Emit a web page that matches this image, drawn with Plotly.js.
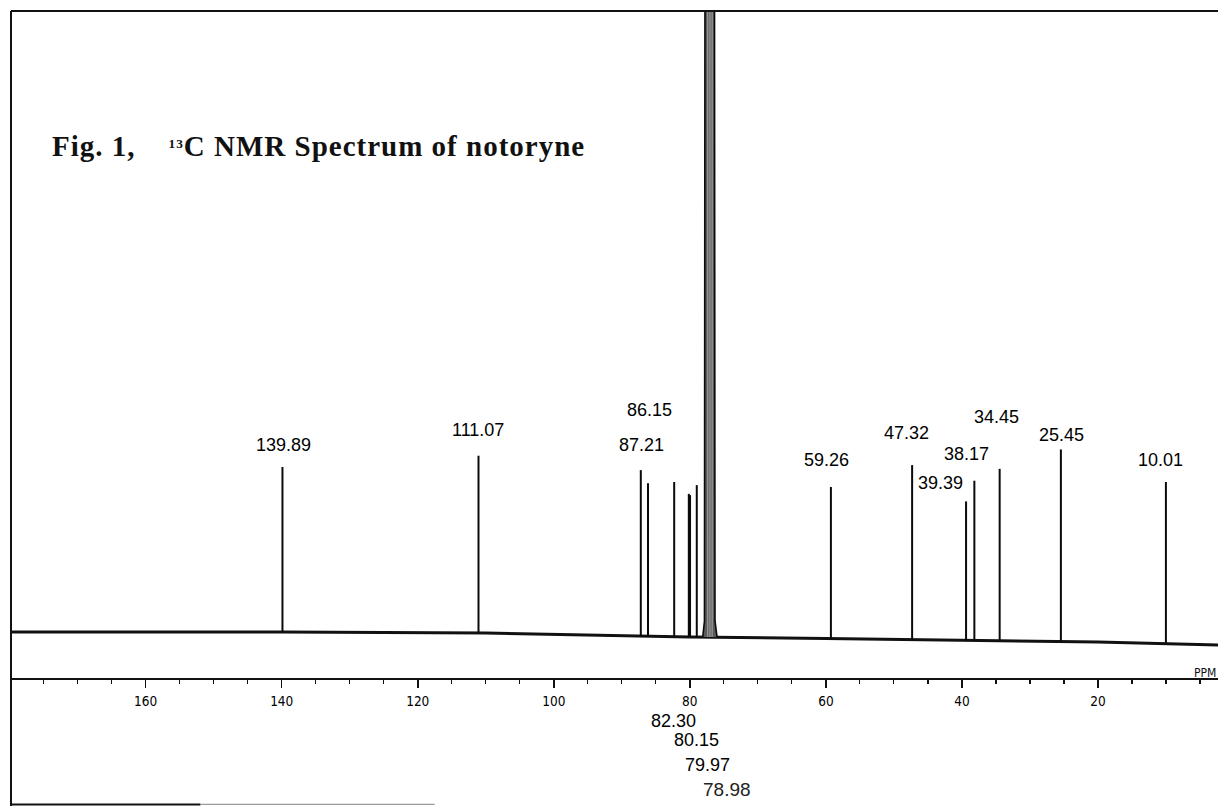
<!DOCTYPE html>
<html>
<head>
<meta charset="utf-8">
<script src="https://cdn.plot.ly/plotly-3.0.1.min.js"></script>
<style>
  html, body { margin: 0; padding: 0; background: #ffffff; }
  #chart { width: 1218px; height: 809px; }
</style>
</head>
<body>
<div id="chart"></div>
<script>
// ---- data (ppm, relative intensity) ----
const peakPpm   = [139.89, 111.07, 87.21, 86.15, 82.30, 80.15, 79.97, 78.98, 59.26, 47.32, 39.39, 38.17, 34.45, 25.45, 10.01];
const peakTop   = [27.0,   28.8,   26.5,  24.4,  24.6,  22.7,  22.5,  24.1,  23.8,  27.3,  21.5,  24.8,  26.7,  29.8,  24.6];
const peakBase  = [0.64,   0.48,  -0.08, -0.08, -0.16, -0.16, -0.16, -0.16, -0.40, -0.56, -0.72, -0.72, -0.72, -0.88, -1.12];

const baselinePpm = [179.8, 140, 110, 95, 80, 60, 40, 20, 2.35];
const baselineVal = [0.64, 0.64, 0.48, 0.16, -0.16, -0.40, -0.72, -0.96, -1.44];

// CDCl3 solvent triplet (top is clipped by the frame) and its band outline
const solventPpm  = [77.36, 77.04, 76.72];
const solventTop  = [140, 140, 140];
const solventEdgePpm = [78.1, 77.85, 77.75, 76.4, 76.3, 76.0];
const solventEdgeVal = [-0.16, 2.4, 140, 140, 2.4, -0.16];

// printed labels
const labelsAbove = ["139.89", "111.07", "87.21", "86.15", "59.26", "47.32", "39.39", "38.17", "34.45", "25.45", "10.01"];
const labelsBelow = ["82.30", "80.15", "79.97", "78.98"];

// axis ticks
const tickVals = [160, 140, 120, 100, 80, 60, 40, 20];
const tickText = ["160", "140", "120", "100", "80", "60", "40", "20"];

// ---- layout positions of the printed labels (ppm x, paper y) ----
const aboveX = [139.71, 111.10, 87.13, 85.88, 59.90, 48.13, 43.13, 39.26, 34.96, 25.29, 10.81];
const aboveY = [0.4535, 0.4724, 0.4535, 0.4975, 0.4347, 0.4680, 0.4052, 0.4422, 0.4887, 0.4667, 0.4347];
const belowX = [82.35, 78.97, 77.35, 74.49];
const belowY = [0.1062, 0.0829, 0.0521, 0.0207];

// ---- traces ----
const px = [], py = [];
peakPpm.forEach((p, i) => { px.push(p, p, null); py.push(peakBase[i], peakTop[i], null); });
const sx = [], sy = [];
solventPpm.forEach((p, i) => { sx.push(p, p, null); sy.push(-0.16, solventTop[i], null); });

const traces = [
  { x: baselinePpm, y: baselineVal, mode: 'lines', type: 'scatter',
    line: { color: '#111111', width: 3 }, hoverinfo: 'skip' },
  { x: solventEdgePpm, y: solventEdgeVal, mode: 'lines', type: 'scatter', fill: 'toself',
    fillcolor: '#5a5a5a', line: { color: '#0a0a0a', width: 1.6 }, hoverinfo: 'skip' },
  { x: sx, y: sy, mode: 'lines', type: 'scatter',
    line: { color: '#bdbdbd', width: 0.8 }, hoverinfo: 'skip' },
  { x: px, y: py, mode: 'lines', type: 'scatter',
    line: { color: '#0a0a0a', width: 2 }, hoverinfo: 'skip' }
];

const annotations = [];
labelsAbove.forEach((t, i) => annotations.push({
  text: t, xref: 'x', yref: 'paper', x: aboveX[i], y: aboveY[i],
  xanchor: 'center', yanchor: 'middle', showarrow: false,
  font: { family: 'Liberation Sans, Arial, sans-serif', size: 18, color: '#000000' }
}));
labelsBelow.forEach((t, i) => annotations.push({
  text: t, xref: 'x', yref: 'paper', x: belowX[i], y: belowY[i],
  xanchor: 'center', yanchor: 'middle', showarrow: false,
  font: { family: 'Liberation Sans, Arial, sans-serif', size: i === 3 ? 19 : 18, color: i === 3 ? '#222222' : '#000000' }
}));
// figure caption
annotations.push({
  text: 'Fig. 1,    <span style="font-size:19px"><sup>13</sup></span>C NMR Spectrum of notoryne',
  xref: 'paper', yref: 'paper', x: 0.0323, y: 0.829, xanchor: 'left', yanchor: 'middle', align: 'left',
  showarrow: false,
  font: { family: 'Liberation Serif, Times New Roman, serif', size: 29, color: '#111111', weight: 'bold' }
});
// unit label at the right end of the axis
annotations.push({
  text: 'PPM', xref: 'paper', yref: 'paper', x: 0.989, y: 0.167, xanchor: 'center', yanchor: 'middle',
  showarrow: false, font: { family: 'Liberation Sans Narrow, DejaVu Sans Condensed, sans-serif', size: 12, color: '#111111' }
});

const layout = {
  width: 1218, height: 809,
  margin: { l: 11, r: 0, t: 10, b: 3, pad: 0 },
  paper_bgcolor: '#ffffff', plot_bgcolor: '#ffffff',
  showlegend: false,
  xaxis: {
    range: [179.8, 2.35], anchor: 'free', position: 0.1595,
    showline: true, linecolor: '#111111', linewidth: 2,
    showgrid: false, zeroline: false,
    tickmode: 'array', tickvals: tickVals, ticktext: tickText,
    ticks: 'outside', ticklen: 8, tickwidth: 1.5, tickcolor: '#111111',
    ticklabelstandoff: 2,
    tickfont: { family: 'Liberation Sans Narrow, DejaVu Sans Condensed, sans-serif', size: 13.5, color: '#000000' },
    minor: { tickmode: 'linear', tick0: 0, dtick: 5, ticks: 'outside', ticklen: 4, tickwidth: 1.2, tickcolor: '#111111', showgrid: false },
    fixedrange: true
  },
  yaxis: { range: [-27.16, 100], visible: false, showgrid: false, zeroline: false, fixedrange: true },
  shapes: [
    { type: 'line', xref: 'paper', yref: 'paper', x0: 0, x1: 1, y0: 0.9987, y1: 0.9987, line: { color: '#111111', width: 2 } },
    { type: 'line', xref: 'paper', yref: 'paper', x0: 0, x1: 0, y0: 0, y1: 0.9987, line: { color: '#111111', width: 2 } },
    { type: 'line', xref: 'paper', yref: 'paper', x0: 0, x1: 0.157, y0: 0.002, y1: 0.002, line: { color: '#111111', width: 2 } },
    { type: 'line', xref: 'paper', yref: 'paper', x0: 0.157, x1: 0.351, y0: 0.002, y1: 0.002, line: { color: '#9a9a9a', width: 1.2 } }
  ],
  annotations: annotations
};

Plotly.newPlot('chart', traces, layout, { displayModeBar: false, staticPlot: true }).then(() => {
  // the printed caption is letter-spaced
  document.querySelectorAll('.annotation-text').forEach(el => {
    if (el.textContent.indexOf('notoryne') >= 0) el.style.letterSpacing = '1px';
  });
});
</script>
</body>
</html>
